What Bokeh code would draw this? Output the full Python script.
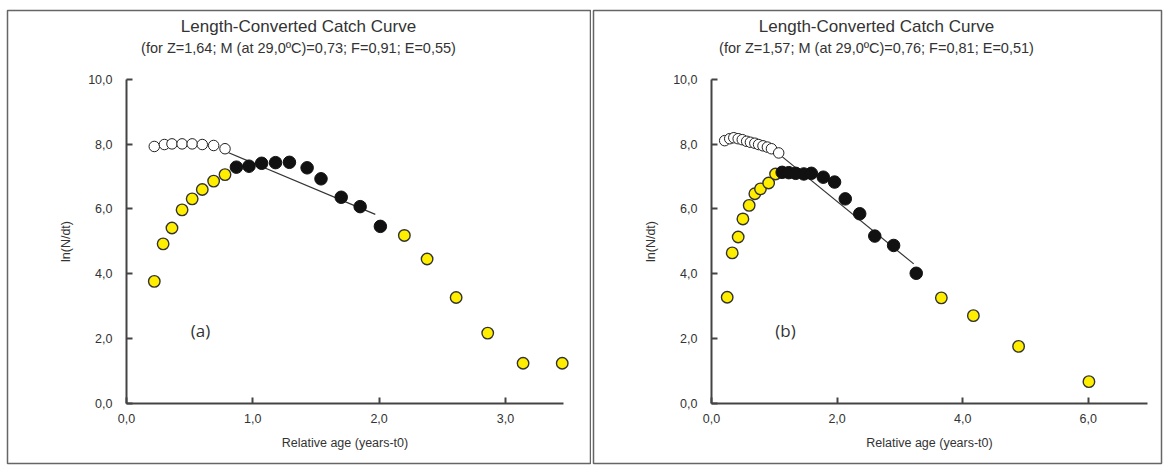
from bokeh.plotting import figure
from bokeh.layouts import row
from bokeh.models import FixedTicker, Label, Range1d
from bokeh.embed import file_html
from bokeh.resources import INLINE

# ---------------- data ----------------
titles = ["Length-Converted Catch Curve", "Length-Converted Catch Curve"]
subtitles = ["(for Z=1,64; M (at 29,0\u00baC)=0,73; F=0,91; E=0,55)",
             "(for Z=1,57; M (at 29,0\u00baC)=0,76; F=0,81; E=0,51)"]
panel_tags = ["(a)", "(b)"]
y_ticks = [0, 2, 4, 6, 8, 10]
y_tick_labels = ["0,0", "2,0", "4,0", "6,0", "8,0", "10,0"]
a_x_ticks = [0, 1, 2, 3]
a_x_tick_labels = ["0,0", "1,0", "2,0", "3,0"]
b_x_ticks = [0, 2, 4, 6]
b_x_tick_labels = ["0,0", "2,0", "4,0", "6,0"]

# panel (a)
a_open_x = [0.22, 0.30, 0.36, 0.44, 0.52, 0.60, 0.69, 0.78]
a_open_y = [7.93, 7.99, 8.01, 8.01, 8.01, 7.99, 7.96, 7.86]
a_yel_x = [0.22, 0.29, 0.36, 0.44, 0.52, 0.60, 0.69, 0.78, 2.20, 2.38, 2.61, 2.86, 3.14, 3.45]
a_yel_y = [3.76, 4.92, 5.41, 5.97, 6.31, 6.60, 6.86, 7.06, 5.18, 4.45, 3.26, 2.16, 1.23, 1.23]
a_blk_x = [0.87, 0.97, 1.07, 1.18, 1.29, 1.43, 1.54, 1.70, 1.85, 2.01]
a_blk_y = [7.29, 7.32, 7.41, 7.43, 7.44, 7.27, 6.93, 6.36, 6.07, 5.46]
a_line_x = [0.80, 1.97]
a_line_y = [7.75, 5.83]

# panel (b)
b_open_x = [0.21, 0.29, 0.355, 0.425, 0.49, 0.56, 0.62, 0.69, 0.75, 0.82, 0.89, 0.955, 1.07]
b_open_y = [8.11, 8.17, 8.20, 8.17, 8.14, 8.09, 8.06, 8.03, 7.99, 7.95, 7.91, 7.86, 7.73]
b_yel_x = [0.25, 0.33, 0.425, 0.50, 0.60, 0.69, 0.78, 0.91, 1.02, 3.66, 4.17, 4.89, 6.01]
b_yel_y = [3.27, 4.64, 5.13, 5.69, 6.11, 6.47, 6.62, 6.80, 7.08, 3.25, 2.70, 1.75, 0.66]
b_blk_x = [1.125, 1.23, 1.34, 1.47, 1.59, 1.78, 1.96, 2.13, 2.36, 2.60, 2.90, 3.26]
b_blk_y = [7.13, 7.12, 7.10, 7.08, 7.10, 6.98, 6.83, 6.31, 5.85, 5.16, 4.87, 4.01]
b_line_x = [1.07, 3.22]
b_line_y = [7.70, 4.30]

FONT = "Liberation Sans"
TXT = "#333333"
H = 466
Y_ORIGIN = 402.5     # canvas pixel row of y = 0
Y_SCALE = 32.35      # pixels per y unit


def make_panel(canvas_left, width, box, x_origin, x_scale, x_bound, x_ticks, x_labels,
               open_x, open_y, yel_x, yel_y, blk_x, blk_y, line_x, line_y,
               title, subtitle, tag, tag_px, title_px):
    # box: (left, right, top, bottom) of the panel frame in page pixels
    bl, br, bt, bb = box
    xr = Range1d((bl - x_origin) / x_scale, (br - x_origin) / x_scale)
    yr = Range1d((Y_ORIGIN - bb) / Y_SCALE, (Y_ORIGIN - bt) / Y_SCALE)
    p = figure(width=width, height=H, x_range=xr, y_range=yr,
               output_backend="svg", toolbar_location=None, title=None,
               min_border_left=bl - canvas_left, min_border_right=canvas_left + width - br,
               min_border_top=bt, min_border_bottom=H - bb)
    p.outline_line_color = "#666666"
    p.outline_line_width = 1.5
    p.grid.visible = False

    for ax in (p.xaxis[0], p.yaxis[0]):
        ax.fixed_location = 0
        ax.axis_line_color = "#444444"
        ax.axis_line_width = 2
        ax.major_tick_line_color = "#444444"
        ax.major_tick_line_width = 2
        ax.major_tick_in = 6
        ax.major_tick_out = 0
        ax.minor_tick_line_color = None
        ax.major_label_text_font = FONT
        ax.major_label_text_font_size = "12.5px"
        ax.major_label_text_color = TXT
        ax.axis_label_text_font = FONT
        ax.axis_label_text_font_size = "12.5px"
        ax.axis_label_text_font_style = "normal"
        ax.axis_label_text_color = TXT

    p.xaxis.ticker = FixedTicker(ticks=x_ticks)
    p.xaxis.major_label_overrides = {t: l for t, l in zip(x_ticks, x_labels)}
    p.xaxis.bounds = (0, x_bound)
    p.xaxis.major_label_standoff = 11
    p.xaxis.axis_label = "Relative age (years-t0)"
    p.xaxis.axis_label_standoff = 9

    p.yaxis.ticker = FixedTicker(ticks=y_ticks)
    p.yaxis.major_label_overrides = {t: l for t, l in zip(y_ticks, y_tick_labels)}
    p.yaxis.bounds = (0, 10)
    p.yaxis.major_label_standoff = 14
    p.yaxis.axis_label = "ln(N/dt)"
    p.yaxis.axis_label_standoff = 12

    p.line(line_x, line_y, line_color="#333333", line_width=1.2)
    p.scatter(open_x, open_y, size=10.5, fill_color="white", line_color="#222222", line_width=1)
    p.scatter(yel_x, yel_y, size=11.5, fill_color="#ffee00", line_color="#333333", line_width=1.4)
    p.scatter(blk_x, blk_y, size=12.5, fill_color="#111111", line_color="#111111", line_width=1)

    def dx(px):
        return (px - x_origin) / x_scale

    def dy(py):
        return (Y_ORIGIN - py) / Y_SCALE

    p.add_layout(Label(x=dx(tag_px[0]), y=dy(tag_px[1]), text=tag, text_font="Open Sans",
                       text_font_size="17px", text_color=TXT,
                       text_align="center", text_baseline="middle"))
    p.add_layout(Label(x=dx(title_px), y=dy(26), text=title, text_font=FONT,
                       text_font_size="17px", text_color=TXT,
                       text_align="center", text_baseline="middle"))
    p.add_layout(Label(x=dx(title_px), y=dy(47), text=subtitle, text_font=FONT,
                       text_font_size="14.5px", text_color=TXT,
                       text_align="center", text_baseline="middle"))
    return p


p1 = make_panel(0, 591, (7, 590, 10, 463), 126, 126.3, 3.46, a_x_ticks, a_x_tick_labels,
                a_open_x, a_open_y, a_yel_x, a_yel_y, a_blk_x, a_blk_y, a_line_x, a_line_y,
                titles[0], subtitles[0], panel_tags[0], (200, 330), 298)
p2 = make_panel(591, 573, (593, 1161, 10, 463), 711, 62.8, 6.94, b_x_ticks, b_x_tick_labels,
                b_open_x, b_open_y, b_yel_x, b_yel_y, b_blk_x, b_blk_y, b_line_x, b_line_y,
                titles[1], subtitles[1], panel_tags[1], (785, 330), 876)

layout = row(p1, p2, spacing=0)
open("out.html", "w").write(file_html(layout, INLINE))
